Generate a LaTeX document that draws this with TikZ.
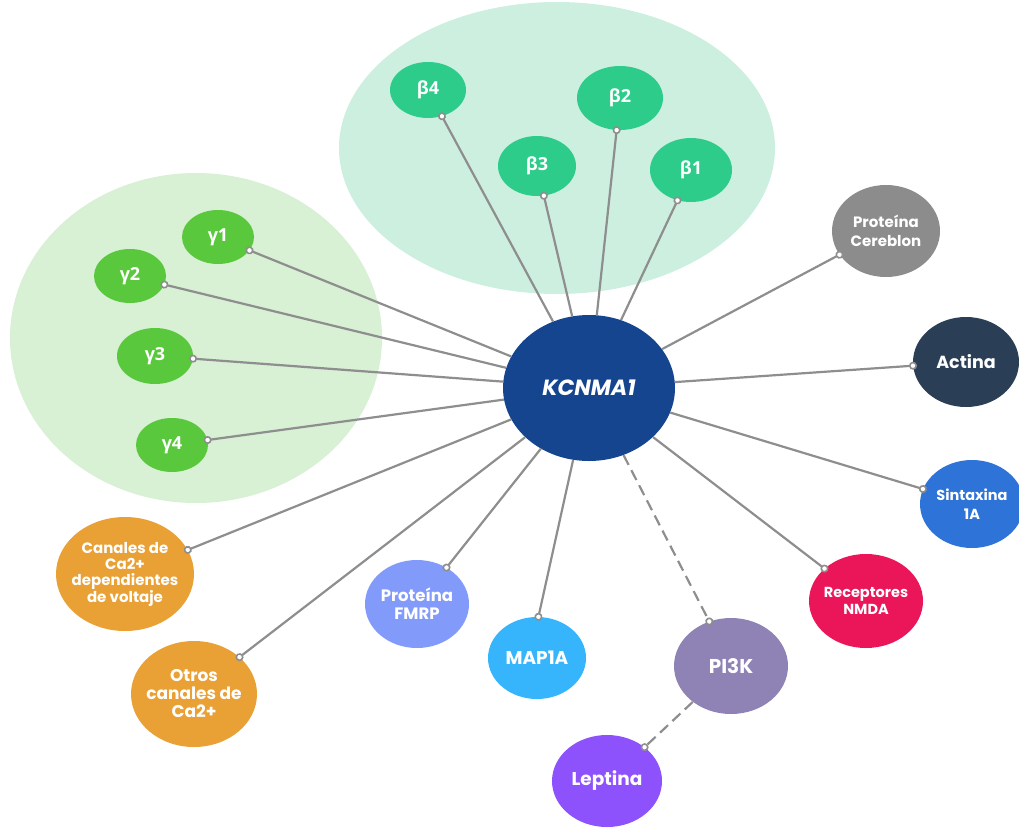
\documentclass[tikz,border=0pt]{standalone}
\usepackage{fontspec}
\setmainfont{Poppins}
\newfontfamily\greekfont{Open Sans}
\usetikzlibrary{shapes.geometric,arrows.meta}
\definecolor{betabg}{HTML}{CDEFE0}
\definecolor{gammabg}{HTML}{D8F0D4}
\definecolor{betagreen}{HTML}{2ECC8B}
\definecolor{gammagreen}{HTML}{5AC83C}
\definecolor{kblue}{HTML}{15458F}
\definecolor{caorange}{HTML}{E9A035}
\definecolor{fmrpblue}{HTML}{829BFB}
\definecolor{mapblue}{HTML}{36B4FC}
\definecolor{pikviolet}{HTML}{8F82B4}
\definecolor{leppurple}{HTML}{8E52FC}
\definecolor{cergray}{HTML}{8C8C8C}
\definecolor{actnavy}{HTML}{2A3F55}
\definecolor{sinblue}{HTML}{2D73D8}
\definecolor{nmdared}{HTML}{EA1659}
\definecolor{linkgray}{HTML}{8E8E8E}

\begin{document}
\begin{tikzpicture}[x=1pt,y=-1pt,
		bubble/.style={ellipse, inner sep=-12pt, text=white, align=center},
		greek/.style={bubble, fill=#1, font=\greekfont\bfseries\fontsize{18}{20}\selectfont},
		txt/.style args={#1/#2}{font=\bfseries\fontsize{#1}{#2}\selectfont},
		link/.style={draw=linkgray, line width=2.2pt, shorten >=-4pt,
			-{Circle[length=8pt,width=8pt,fill=white,line width=1.6pt]}},
		dashlink/.style={link, dash pattern=on 11pt off 6pt}]
		\useasboundingbox (0,0) rectangle (1019,827);
		\fill[betabg] (557,148) ellipse [x radius=218, y radius=146];
		\fill[gammabg] (196,338) ellipse [x radius=186, y radius=165];

		\node[bubble, fill=kblue, minimum width=172pt, minimum height=146pt, font=\bfseries\itshape\fontsize{22}{26}\selectfont] (k) at (589,388) {KCNMA1};

		\node[greek=betagreen, minimum width=76pt, minimum height=56pt] (b4) at (428,90) {β4};
		\node[greek=betagreen, minimum width=86pt, minimum height=64pt] (b2) at (620,98) {β2};
		\node[greek=betagreen, minimum width=78pt, minimum height=60pt] (b3) at (537,166) {β3};
		\node[greek=betagreen, minimum width=82pt, minimum height=64pt] (b1) at (691,170) {β1};

		\node[greek=gammagreen, minimum width=72pt, minimum height=54pt] (g1) at (218,237) {γ1};
		\node[greek=gammagreen, minimum width=72pt, minimum height=54pt] (g2) at (130,276) {γ2};
		\node[greek=gammagreen, minimum width=76pt, minimum height=56pt] (g3) at (155,356) {γ3};
		\node[greek=gammagreen, minimum width=72pt, minimum height=54pt] (g4) at (172,445) {γ4};

		\node[bubble, txt=15/16, fill=caorange, minimum width=138pt, minimum height=114pt] (ca) at (125,574) {Canales de\\Ca2+\\dependientes\\de voltaje};
		\node[bubble, txt=17/18, fill=caorange, minimum width=126pt, minimum height=106pt] (otr) at (194,694) {Otros\\canales de\\Ca2+};
		\node[bubble, txt=16.5/18, fill=fmrpblue, minimum width=104pt, minimum height=88pt] (fmrp) at (417,604) {Proteína\\FMRP};
		\node[bubble, txt=18.5/20, fill=mapblue, minimum width=98pt, minimum height=82pt] (map) at (537,658) {MAP1A};
		\node[bubble, txt=20/22, fill=pikviolet, minimum width=114pt, minimum height=96pt] (pik) at (731,666) {PI3K};
		\node[bubble, txt=18.5/20, fill=leppurple, minimum width=110pt, minimum height=92pt] (lep) at (607,781) {Leptina};
		\node[bubble, txt=15/19, fill=cergray, minimum width=108pt, minimum height=92pt] (cer) at (886,231) {Proteína\\Cereblon};
		\node[bubble, txt=17.5/20, fill=actnavy, minimum width=106pt, minimum height=90pt] (act) at (966,362) {Actina};
		\node[bubble, txt=14.5/19, fill=sinblue, minimum width=104pt, minimum height=88pt] (sin) at (972,504) {Sintaxina\\1A};
		\node[bubble, txt=14.5/17, fill=nmdared, minimum width=114pt, minimum height=94pt] (nmda) at (866,601) {Receptores\\NMDA};

		\draw[link] (k) -- (b4.-62);
		\draw[link] (k) -- (b3.-77);
		\draw[link] (k) -- (b2.-96);
		\draw[link] (k) -- (b1.-114);
		\draw[link] (k) -- (g1.-23);
		\draw[link] (k) -- (g2.-14);
		\draw[link] (k) -- (g3.-4);
		\draw[link] (k) -- (g4.8);
		\draw[link] (k) -- (ca.21);
		\draw[link] (k) -- (otr.39);
		\draw[link] (k) -- (fmrp.51);
		\draw[link] (k) -- (map.88);
		\draw[dashlink] (k) -- (pik.116);
		\draw[dashlink] (pik) -- (lep.42);
		\draw[link] (k) -- (nmda.142);
		\draw[link] (k) -- (sin.163);
		\draw[link] (k) -- (act.184);
		\draw[link] (k) -- (cer.207);
	\end{tikzpicture}
\end{document}
